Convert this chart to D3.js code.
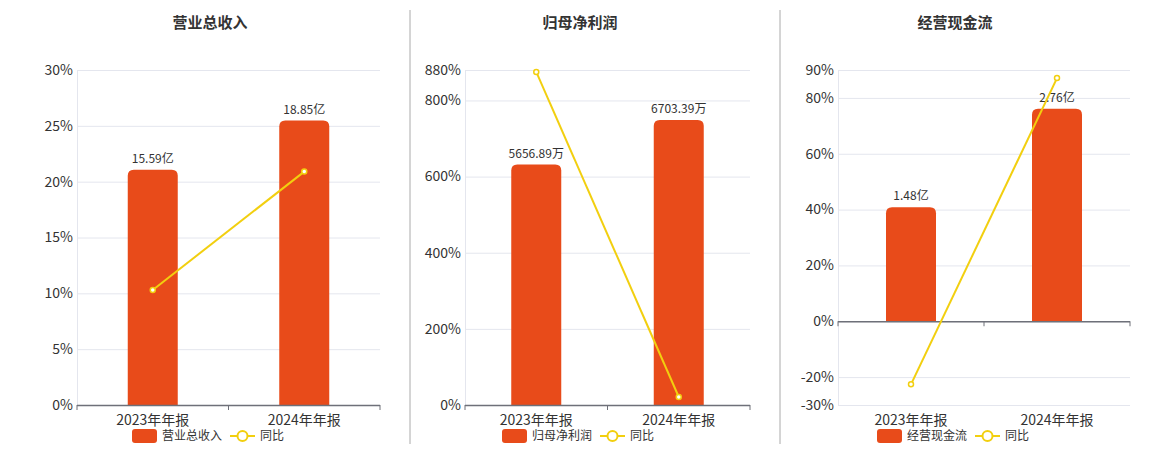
<!DOCTYPE html>
<html>
<head>
<meta charset="UTF-8">
<script src="https://d3js.org/d3.v7.min.js"></script>
<style>
body { margin:0; background:#fff; font-family:"Noto Sans CJK SC","DejaVu Sans",sans-serif; }
</style>
</head>
<body>
<div id="chart"></div>
<script>
var categories = ["2023年年报", "2024年年报"];
var titles = ["营业总收入", "归母净利润", "经营现金流"];
var barValues = [[15.59, 18.85], [5656.89, 6703.39], [1.48, 2.76]];
var barLabels = [["15.59亿", "18.85亿"], ["5656.89万", "6703.39万"], ["1.48亿", "2.76亿"]];
var yoyValues = [[10.3, 20.9], [875, 21], [-22.6, 87.1]];
var tickLabels = [[0, 5, 10, 15, 20, 25, 30], [0, 200, 400, 600, 800, 880], [-30, -20, 0, 20, 40, 60, 80, 90]];
var yDomains = [[0, 30], [0, 880], [-30, 90]];
var barMax = [22.2, 7880, 4.35];

var panels = [
  {cx: 210, left: 77, right: 380},
  {cx: 580, left: 465, right: 750},
  {cx: 955, left: 838, right: 1130}
];
var plotTop = 70, plotBottom = 405;
var barColor = "#e84b1a", lineColor = "#f2cf0f";

var svg = d3.select("#chart").append("svg").attr("width", 1160).attr("height", 450);

// separators
[410, 780].forEach(function(x) {
  svg.append("line").attr("x1", x).attr("x2", x).attr("y1", 10).attr("y2", 444)
    .attr("stroke", "#aaa").attr("stroke-width", 1);
});

panels.forEach(function(p, i) {
  var g = svg.append("g");
  g.append("text").attr("x", p.cx).attr("y", 28).attr("text-anchor", "middle")
    .style("font-size", "15px").style("font-weight", "bold").attr("fill", "#333").text(titles[i]);

  var x = d3.scaleBand().domain(categories).range([p.left, p.right]);
  var y = d3.scaleLinear().domain(yDomains[i]).range([plotBottom, plotTop]);
  var zeroY = y(0);
  var yb = d3.scaleLinear().domain([0, barMax[i]]).range([0, plotBottom - plotTop]);

  // grid
  g.selectAll(".grid").data(tickLabels[i]).enter().append("line")
    .attr("x1", p.left).attr("x2", p.right)
    .attr("y1", function(d) { return y(d) + 0.5; }).attr("y2", function(d) { return y(d) + 0.5; })
    .attr("stroke", "#e4e6ee");
  g.append("line").attr("x1", p.left + 0.5).attr("x2", p.left + 0.5).attr("y1", plotTop).attr("y2", plotBottom)
    .attr("stroke", "#e4e6ee");
  g.selectAll(".tl").data(tickLabels[i]).enter().append("text")
    .attr("x", p.left - 4).attr("y", function(d) { return y(d); }).attr("dy", "0.35em")
    .attr("text-anchor", "end").style("font-size", "14px").attr("fill", "#333")
    .text(function(d) { return d + "%"; });

  // bars
  var bw = 50;
  g.selectAll(".bar").data(barValues[i]).enter().append("path")
    .attr("d", function(d, j) {
      var x0 = x(categories[j]) + x.bandwidth() / 2 - bw / 2, h = yb(d), r = 6;
      var y0 = zeroY - h;
      return "M" + x0 + "," + zeroY + "V" + (y0 + r) + "Q" + x0 + "," + y0 + " " + (x0 + r) + "," + y0 +
        "H" + (x0 + bw - r) + "Q" + (x0 + bw) + "," + y0 + " " + (x0 + bw) + "," + (y0 + r) + "V" + zeroY + "Z";
    }).attr("fill", barColor);
  g.selectAll(".bl").data(barValues[i]).enter().append("text")
    .attr("x", function(d, j) { return x(categories[j]) + x.bandwidth() / 2; })
    .attr("y", function(d) { return zeroY - yb(d) - 7; })
    .attr("text-anchor", "middle").style("font-size", "12px").attr("fill", "#333")
    .text(function(d, j) { return barLabels[i][j]; });

  // axis
  g.append("line").attr("x1", p.left).attr("x2", p.right).attr("y1", zeroY + 0.5).attr("y2", zeroY + 0.5)
    .attr("stroke", "#6e7079").attr("stroke-width", 1.5);
  [p.left, p.left + x.bandwidth(), p.right].forEach(function(tx) {
    g.append("line").attr("x1", tx).attr("x2", tx).attr("y1", zeroY).attr("y2", zeroY + 5).attr("stroke", "#6e7079");
  });
  g.selectAll(".xl").data(categories).enter().append("text")
    .attr("x", function(d) { return x(d) + x.bandwidth() / 2; }).attr("y", 425)
    .attr("text-anchor", "middle").style("font-size", "14px").attr("fill", "#333").text(function(d) { return d; });

  // line
  var line = d3.line().x(function(d, j) { return x(categories[j]) + x.bandwidth() / 2; }).y(function(d) { return y(d); });
  g.append("path").datum(yoyValues[i]).attr("d", line).attr("fill", "none").attr("stroke", lineColor).attr("stroke-width", 2);
  g.selectAll(".pt").data(yoyValues[i]).enter().append("circle")
    .attr("cx", function(d, j) { return x(categories[j]) + x.bandwidth() / 2; })
    .attr("cy", function(d) { return y(d); }).attr("r", 2.5)
    .attr("fill", "#fff").attr("stroke", lineColor).attr("stroke-width", 1.5);

  // legend
  var lx = p.cx - 78, ly = 436;
  g.append("rect").attr("x", lx).attr("y", ly - 7).attr("width", 25).attr("height", 14).attr("rx", 3).attr("fill", barColor);
  g.append("text").attr("x", lx + 30).attr("y", ly).attr("dy", "0.35em").style("font-size", "12px").attr("fill", "#333").text(titles[i]);
  var l2 = lx + 30 + titles[i].length * 12 + 8;
  g.append("line").attr("x1", l2).attr("x2", l2 + 25).attr("y1", ly).attr("y2", ly).attr("stroke", lineColor).attr("stroke-width", 2);
  g.append("circle").attr("cx", l2 + 12.5).attr("cy", ly).attr("r", 5).attr("fill", "#fff").attr("stroke", lineColor).attr("stroke-width", 2);
  g.append("text").attr("x", l2 + 30).attr("y", ly).attr("dy", "0.35em").style("font-size", "12px").attr("fill", "#333").text("同比");
});
</script>
</body>
</html>
